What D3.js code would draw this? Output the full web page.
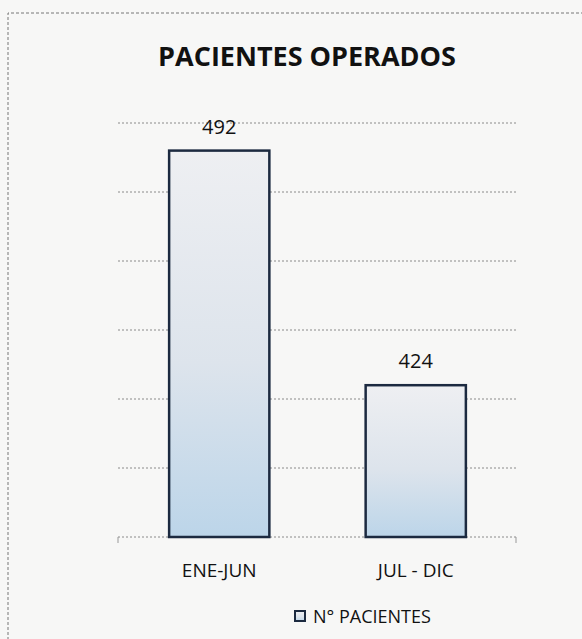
<!DOCTYPE html>
<html lang="es">
<head>
<meta charset="UTF-8">
<title>Pacientes operados</title>
<script src="https://cdn.jsdelivr.net/npm/d3@7"></script>
<style>
  * { margin: 0; padding: 0; }
  body { background: #f7f7f6; }
  text { font-family: "Open Sans", "DejaVu Sans", sans-serif; fill: #111; }
</style>
</head>
<body>
<script>
  // datos
  const categories = ["ENE-JUN", "JUL - DIC"];
  const values = [492, 424];
  const seriesName = "N° PACIENTES";
  const yTicks = [380, 400, 420, 440, 460, 480, 500];

  const width = 582, height = 639;
  const svg = d3.select("body").append("svg").attr("width", width).attr("height", height);

  const grad = svg.append("defs").append("linearGradient")
      .attr("id", "barFill").attr("x1", 0).attr("y1", 0).attr("x2", 0).attr("y2", 1);
  grad.append("stop").attr("offset", "0%").attr("stop-color", "#eeeff2");
  grad.append("stop").attr("offset", "55%").attr("stop-color", "#dde4ec");
  grad.append("stop").attr("offset", "100%").attr("stop-color", "#bcd5e9");

  // marco exterior punteado
  svg.append("path")
      .attr("d", "M8,640 L8,13 L582,13")
      .attr("fill", "none").attr("stroke", "#777").attr("stroke-width", 1)
      .attr("stroke-dasharray", "3,2");

  const x = d3.scaleBand().domain(categories).range([120, 515]).paddingInner(0.49).paddingOuter(0.25);
  const y = d3.scaleLinear().domain([380, 500]).range([537, 123]);

  // lineas de cuadricula
  svg.append("g").selectAll("line")
    .data(yTicks)
    .join("line")
      .attr("x1", 118).attr("x2", 516)
      .attr("y1", d => y(d)).attr("y2", d => y(d))
      .attr("stroke", "#8a8a8a").attr("stroke-width", 1)
      .attr("stroke-dasharray", "2,2");

  // marcas en los extremos del eje
  svg.append("g").selectAll("line")
    .data([118, 516])
    .join("line")
      .attr("x1", d => d).attr("x2", d => d)
      .attr("y1", y(380)).attr("y2", y(380) + 6)
      .attr("stroke", "#999");

  // barras
  svg.append("g").selectAll("rect")
    .data(values)
    .join("rect")
      .attr("x", (d, i) => x(categories[i]))
      .attr("y", d => y(d))
      .attr("width", x.bandwidth())
      .attr("height", d => y(380) - y(d))
      .attr("fill", "url(#barFill)")
      .attr("stroke", "#1c2a40").attr("stroke-width", 2.5);

  // etiquetas de valor
  svg.append("g").selectAll("text")
    .data(values)
    .join("text")
      .attr("x", (d, i) => x(categories[i]) + x.bandwidth() / 2)
      .attr("y", d => y(d) - 17)
      .attr("text-anchor", "middle")
      .attr("font-size", 20)
      .text(d => d);

  // categorias
  svg.append("g").selectAll("text")
    .data(categories)
    .join("text")
      .attr("x", d => x(d) + x.bandwidth() / 2)
      .attr("y", 577)
      .attr("text-anchor", "middle")
      .attr("font-size", 19)
      .text(d => d);

  // titulo
  svg.append("text")
    .attr("x", 307).attr("y", 66)
    .attr("text-anchor", "middle")
    .attr("font-size", 27).attr("font-weight", "bold")
    .text("PACIENTES OPERADOS");

  // leyenda
  const lg = svg.append("g").attr("transform", "translate(295,611)");
  lg.append("rect").attr("width", 10).attr("height", 10)
    .attr("fill", "url(#barFill)").attr("stroke", "#1c2a40").attr("stroke-width", 2);
  lg.append("text").attr("x", 18).attr("y", 12).attr("font-size", 18).text(seriesName);
</script>
</body>
</html>
